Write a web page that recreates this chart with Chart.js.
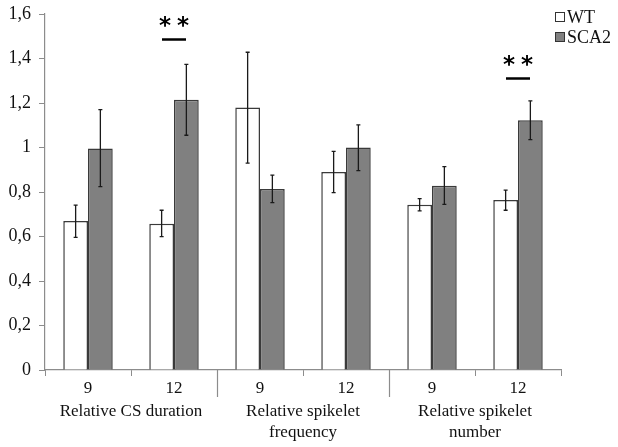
<!DOCTYPE html>
<html>
<head>
<meta charset="utf-8">
<script src="https://cdn.jsdelivr.net/npm/chart.js@4/dist/chart.umd.min.js"></script>
<style>
  html, body { margin: 0; padding: 0; background: #fff; }
  #wrap { width: 618px; height: 447px; }
</style>
</head>
<body>
<div id="wrap"><canvas id="chart"></canvas></div>
<script>
const categories = ['9', '12', '9', '12', '9', '12'];
const groups = ['Relative CS duration', ['Relative spikelet', 'frequency'], ['Relative spikelet', 'number']];
const wtValues = [0.67, 0.657, 1.18, 0.89, 0.743, 0.764];
const wtErrHi = [0.741, 0.718, 1.428, 0.983, 0.77, 0.808];
const wtErrLo = [0.596, 0.599, 0.93, 0.797, 0.715, 0.718];
const scaValues = [0.996, 1.215, 0.813, 1.0, 0.828, 1.122];
const scaErrHi = [1.17, 1.374, 0.876, 1.102, 0.914, 1.21];
const scaErrLo = [0.824, 1.055, 0.752, 0.896, 0.744, 1.035];
const sigIndex = [1, 5];
const sigLevel = [1.488, 1.312];
const yTicks = [0, 0.2, 0.4, 0.6, 0.8, 1, 1.2, 1.4, 1.6];

const serif = '"Liberation Serif", "Times New Roman", serif';

const errorBars = {
  id: 'errorBars',
  afterDatasetsDraw(chart) {
    const ctx = chart.ctx;
    const y = chart.scales.y;
    const sets = [[wtErrHi, wtErrLo], [scaErrHi, scaErrLo]];
    ctx.save();
    ctx.strokeStyle = '#1a1a1a';
    ctx.lineWidth = 1.3;
    sets.forEach((s, d) => {
      chart.getDatasetMeta(d).data.forEach((bar, i) => {
        const top = y.getPixelForValue(s[0][i]);
        const bot = y.getPixelForValue(s[1][i]);
        ctx.beginPath();
        ctx.moveTo(bar.x, top); ctx.lineTo(bar.x, bot);
        ctx.moveTo(bar.x - 2, top); ctx.lineTo(bar.x + 2, top);
        ctx.moveTo(bar.x - 2, bot); ctx.lineTo(bar.x + 2, bot);
        ctx.stroke();
      });
    });
    ctx.restore();
  }
};

const extras = {
  id: 'extras',
  afterDraw(chart) {
    const ctx = chart.ctx;
    const x = chart.scales.x, y = chart.scales.y;
    const step = x.getPixelForValue(1) - x.getPixelForValue(0);
    ctx.save();
    // group separators
    ctx.strokeStyle = '#8c8c8c';
    ctx.lineWidth = 1.2;
    [2, 4].forEach(i => {
      const px = Math.round(x.getPixelForValue(i) - step / 2) + 0.5;
      ctx.beginPath();
      ctx.moveTo(px, y.bottom); ctx.lineTo(px, y.bottom + 27);
      ctx.stroke();
    });
    // group labels
    ctx.fillStyle = '#111';
    ctx.font = '17px ' + serif;
    ctx.textAlign = 'center';
    ctx.textBaseline = 'middle';
    groups.forEach((g, k) => {
      const cx = (x.getPixelForValue(2 * k) + x.getPixelForValue(2 * k + 1)) / 2;
      const lines = Array.isArray(g) ? g : [g];
      lines.forEach((t, j) => ctx.fillText(t, cx, y.bottom + 42 + j * 21));
    });
    // significance marks
    sigIndex.forEach((i, k) => {
      const cx = x.getPixelForValue(i);
      const ly = Math.round(y.getPixelForValue(sigLevel[k])) + 0.5;
      ctx.strokeStyle = '#000';
      ctx.lineWidth = 2.5;
      ctx.beginPath();
      ctx.moveTo(cx - 12, ly); ctx.lineTo(cx + 12, ly);
      ctx.stroke();
      ctx.font = 'bold 23px "DejaVu Sans", sans-serif';
      ctx.fillStyle = '#000';
      ctx.fillText('*', cx - 9, ly - 12);
      ctx.fillText('*', cx + 9, ly - 12);
    });
    // legend
    ctx.font = '18px ' + serif;
    ctx.textAlign = 'left';
    chart.data.datasets.forEach((ds, d) => {
      const ly = 17 + d * 20;
      ctx.fillStyle = ds.backgroundColor;
      ctx.strokeStyle = '#333';
      ctx.lineWidth = 1;
      ctx.fillRect(555.5, ly - 4.5, 9, 9);
      ctx.strokeRect(555.5, ly - 4.5, 9, 9);
      ctx.fillStyle = '#111';
      ctx.fillText(ds.label, 567, ly + 1);
    });
    ctx.restore();
  }
};

function draw() {
  new Chart(document.getElementById('chart'), {
    type: 'bar',
    data: {
      labels: categories,
      datasets: [
        { label: 'WT', data: wtValues, backgroundColor: '#ffffff', borderColor: '#3a3a3a', borderWidth: 1.5 },
        { label: 'SCA2', data: scaValues, backgroundColor: '#808080', borderColor: '#3a3a3a', borderWidth: 1.5 }
      ]
    },
    options: {
      responsive: true,
      maintainAspectRatio: false,
      animation: false,
      layout: { padding: { left: 0, right: 57, top: 14, bottom: 0 } },
      datasets: { bar: { categoryPercentage: 0.575, barPercentage: 1 } },
      plugins: { legend: { display: false }, tooltip: { enabled: false } },
      scales: {
        x: {
          grid: { drawOnChartArea: false, color: '#8c8c8c', tickLength: 6, offset: true },
          border: { color: '#8c8c8c', width: 1.2 },
          ticks: { color: '#111', font: { family: serif, size: 17 }, padding: 2, maxRotation: 0 },
          afterFit(s) { s.height = 77; s.paddingLeft = 0; s.paddingRight = 0; }
        },
        y: {
          min: 0, max: 1.6,
          afterBuildTicks(s) { s.ticks = yTicks.map(v => ({ value: v })); },
          grid: { drawOnChartArea: false, color: '#8c8c8c', tickLength: 6 },
          border: { color: '#8c8c8c', width: 1.2 },
          ticks: {
            color: '#111', font: { family: serif, size: 18 }, padding: 8,
            callback: v => String(Math.round(v * 10) / 10).replace('.', ',')
          },
          afterFit(s) { s.width = 45; s.paddingTop = 0; s.paddingBottom = 0; }
        }
      }
    },
    plugins: [errorBars, extras]
  });
}

document.fonts.load('17px "Liberation Serif"').then(draw, draw);
</script>
</body>
</html>
